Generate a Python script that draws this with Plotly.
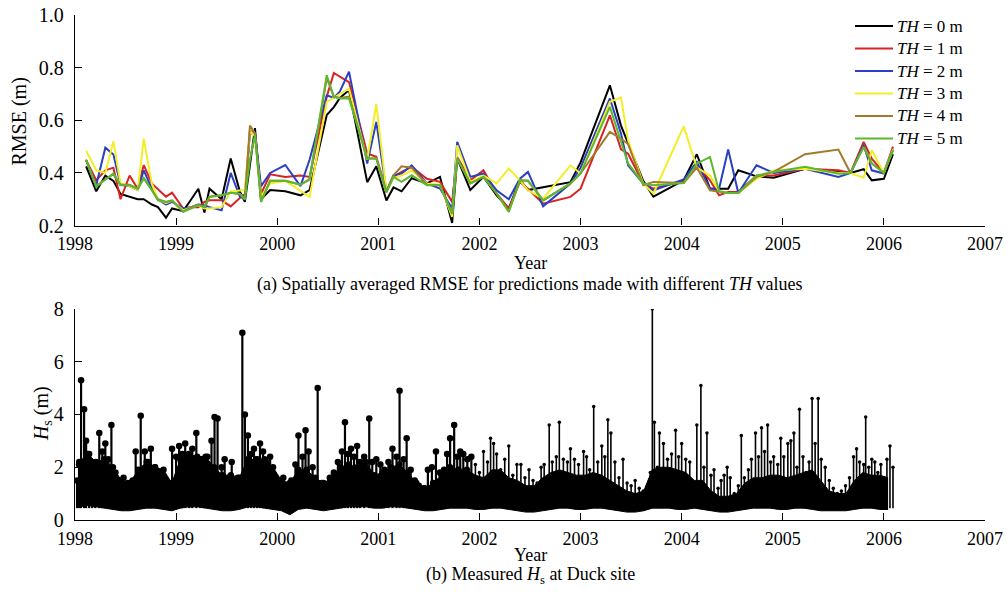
import plotly.graph_objects as go

# ---------------- Panel (a): spatially averaged RMSE ----------------
rmse_time = [1998.11, 1998.21, 1998.30, 1998.38, 1998.45, 1998.54, 1998.62, 1998.68, 1998.76, 1998.82,
             1998.90, 1998.96, 1999.07, 1999.15, 1999.22, 1999.28, 1999.33, 1999.45, 1999.54, 1999.63,
             1999.68, 1999.73, 1999.78, 1999.84, 1999.93, 2000.08, 2000.23, 2000.32, 2000.49, 2000.56,
             2000.62, 2000.71, 2000.89, 2000.98, 2001.08, 2001.15, 2001.23, 2001.33, 2001.48, 2001.61,
             2001.73, 2001.78, 2001.91, 2002.04, 2002.17, 2002.29, 2002.40, 2002.48, 2002.63, 2002.90,
             2003.00, 2003.29, 2003.40, 2003.47, 2003.62, 2003.72, 2004.02, 2004.15, 2004.28, 2004.37,
             2004.46, 2004.56, 2004.74, 2004.91, 2005.22, 2005.55, 2005.67, 2005.80, 2005.88, 2006.00,
             2006.09]

rmse_th0 = [0.425, 0.33, 0.39, 0.37, 0.32, 0.31, 0.30, 0.30, 0.28, 0.27, 0.23, 0.265, 0.255, 0.30, 0.34,
            0.25, 0.34, 0.30, 0.455, 0.33, 0.29, 0.43, 0.57, 0.30, 0.335, 0.33, 0.315, 0.335, 0.62, 0.65,
            0.685, 0.715, 0.365, 0.425, 0.295, 0.345, 0.33, 0.38, 0.36, 0.385, 0.21, 0.455, 0.335, 0.385,
            0.315, 0.265, 0.375, 0.335, 0.345, 0.365, 0.44, 0.733, 0.58, 0.515, 0.37, 0.31, 0.372, 0.471,
            0.34, 0.34, 0.34, 0.41, 0.387, 0.382, 0.416, 0.404, 0.40, 0.414, 0.372, 0.378, 0.471]
rmse_th1 = [0.448, 0.372, 0.41, 0.42, 0.30, 0.39, 0.34, 0.43, 0.36, 0.34, 0.31, 0.325, 0.265, 0.27, 0.27,
            0.29, 0.296, 0.296, 0.273, 0.305, 0.32, 0.55, 0.55, 0.32, 0.395, 0.385, 0.39, 0.385, 0.69, 0.78,
            0.765, 0.745, 0.474, 0.461, 0.33, 0.385, 0.404, 0.423, 0.378, 0.366, 0.29, 0.461, 0.372, 0.41,
            0.322, 0.264, 0.366, 0.34, 0.283, 0.309, 0.34, 0.619, 0.49, 0.473, 0.36, 0.34, 0.37, 0.43,
            0.372, 0.315, 0.328, 0.328, 0.39, 0.39, 0.416, 0.41, 0.40, 0.518, 0.454, 0.40, 0.50]
rmse_th2 = [0.448, 0.353, 0.496, 0.47, 0.355, 0.35, 0.335, 0.41, 0.34, 0.30, 0.28, 0.29, 0.265, 0.27, 0.28,
            0.277, 0.27, 0.258, 0.40, 0.31, 0.30, 0.56, 0.55, 0.35, 0.40, 0.43, 0.35, 0.45, 0.695, 0.685,
            0.71, 0.785, 0.436, 0.594, 0.33, 0.391, 0.398, 0.429, 0.36, 0.341, 0.264, 0.518, 0.385, 0.398,
            0.334, 0.30, 0.378, 0.404, 0.273, 0.36, 0.42, 0.683, 0.55, 0.429, 0.36, 0.334, 0.375, 0.442,
            0.34, 0.34, 0.489, 0.324, 0.429, 0.40, 0.416, 0.385, 0.40, 0.505, 0.41, 0.398, 0.49]
rmse_th3 = [0.484, 0.41, 0.40, 0.52, 0.36, 0.35, 0.335, 0.53, 0.36, 0.30, 0.285, 0.295, 0.258, 0.27, 0.277,
            0.265, 0.265, 0.27, 0.33, 0.335, 0.335, 0.56, 0.54, 0.31, 0.36, 0.37, 0.33, 0.309, 0.67, 0.685,
            0.70, 0.72, 0.45, 0.661, 0.33, 0.38, 0.39, 0.41, 0.36, 0.355, 0.233, 0.505, 0.366, 0.39,
            0.36, 0.417, 0.372, 0.334, 0.302, 0.429, 0.398, 0.67, 0.686, 0.524, 0.36, 0.321, 0.577, 0.42,
            0.39, 0.33, 0.324, 0.324, 0.378, 0.41, 0.416, 0.40, 0.40, 0.382, 0.486, 0.40, 0.49]
rmse_th4 = [0.45, 0.35, 0.375, 0.395, 0.355, 0.355, 0.34, 0.38, 0.335, 0.30, 0.29, 0.295, 0.253, 0.27, 0.28,
            0.27, 0.31, 0.315, 0.325, 0.32, 0.30, 0.58, 0.55, 0.29, 0.37, 0.37, 0.355, 0.375, 0.76, 0.69,
            0.685, 0.69, 0.455, 0.455, 0.33, 0.391, 0.425, 0.42, 0.355, 0.353, 0.245, 0.455, 0.36, 0.385,
            0.322, 0.255, 0.372, 0.37, 0.296, 0.36, 0.398, 0.556, 0.53, 0.51, 0.353, 0.366, 0.362, 0.42,
            0.334, 0.33, 0.324, 0.324, 0.385, 0.404, 0.471, 0.489, 0.40, 0.499, 0.436, 0.40, 0.486]
rmse_th5 = [0.451, 0.347, 0.375, 0.398, 0.353, 0.353, 0.34, 0.38, 0.334, 0.296, 0.29, 0.296, 0.252, 0.265, 0.277,
            0.271, 0.309, 0.315, 0.325, 0.32, 0.30, 0.45, 0.545, 0.29, 0.37, 0.37, 0.355, 0.378, 0.771, 0.689,
            0.683, 0.683, 0.455, 0.455, 0.325, 0.385, 0.366, 0.391, 0.353, 0.353, 0.245, 0.455, 0.36, 0.385,
            0.322, 0.252, 0.372, 0.37, 0.296, 0.36, 0.398, 0.651, 0.52, 0.436, 0.36, 0.353, 0.362, 0.435,
            0.461, 0.33, 0.324, 0.324, 0.39, 0.404, 0.423, 0.397, 0.40, 0.499, 0.436, 0.40, 0.486]

th_labels = ["<i>TH</i> = 0 m", "<i>TH</i> = 1 m", "<i>TH</i> = 2 m",
             "<i>TH</i> = 3 m", "<i>TH</i> = 4 m", "<i>TH</i> = 5 m"]
th_colors = ["#000000", "#d92222", "#2b3fc4", "#f2ee2a", "#a37a2c", "#5cb82e"]

# ---------------- Panel (b): measured Hs at Duck ----------------
hs_years = [1998, 1999, 2000, 2001, 2002, 2003, 2004, 2005, 2006]
# monthly upper edge of the dense band (Jan 1998 ... Jan 2006)
hs_top = [2.2, 2.5, 2.2, 2.3, 2.0, 1.5, 1.4, 1.9, 2.2, 2.0, 1.9, 1.4,
          2.3, 2.5, 2.4, 2.4, 2.0, 1.7, 1.7, 1.6, 2.3, 2.3, 2.3, 2.0,
          1.5, 1.4, 1.9, 1.9, 1.6, 1.4, 1.6, 2.0, 2.1, 2.0, 2.2, 1.7,
          1.8, 2.0, 2.1, 1.8, 1.4, 1.2, 1.4, 1.7, 2.0, 1.9, 1.9, 1.7,
          1.6, 1.9, 1.9, 1.6, 1.5, 1.3, 1.3, 1.6, 1.8, 1.9, 1.8, 1.7,
          1.7, 1.8, 1.7, 1.5, 1.3, 1.1, 1.0, 1.1, 1.9, 2.0, 2.0, 1.9,
          1.8, 1.5, 1.5, 1.1, 0.9, 0.9, 1.0, 1.4, 1.6, 1.6, 1.7, 1.7,
          1.6, 1.7, 1.8, 1.9, 1.5, 1.1, 1.0, 1.0, 1.5, 1.8, 1.7, 1.7,
          1.6]
# monthly lower edge of the band
hs_low = [0.50, 0.55, 0.50, 0.45, 0.40, 0.35, 0.35, 0.40, 0.45, 0.45, 0.40, 0.35,
          0.45, 0.50, 0.50, 0.45, 0.40, 0.35, 0.35, 0.40, 0.50, 0.50, 0.45, 0.40,
          0.35, 0.20, 0.40, 0.45, 0.40, 0.35, 0.40, 0.45, 0.50, 0.50, 0.50, 0.45,
          0.45, 0.50, 0.50, 0.45, 0.40, 0.35, 0.35, 0.40, 0.45, 0.45, 0.45, 0.40,
          0.40, 0.45, 0.45, 0.40, 0.35, 0.30, 0.30, 0.35, 0.40, 0.45, 0.45, 0.40,
          0.40, 0.45, 0.45, 0.40, 0.35, 0.30, 0.30, 0.35, 0.45, 0.45, 0.45, 0.40,
          0.40, 0.45, 0.40, 0.35, 0.30, 0.30, 0.35, 0.40, 0.45, 0.45, 0.45, 0.40,
          0.40, 0.45, 0.45, 0.40, 0.35, 0.35, 0.35, 0.35, 0.40, 0.45, 0.45, 0.40,
          0.40]

# storm peaks (decimal year, Hs in m)
spike_t = [1998.02, 1998.04, 1998.06, 1998.09, 1998.11, 1998.14, 1998.17, 1998.20, 1998.24, 1998.27,
           1998.30, 1998.33, 1998.36, 1998.40, 1998.44, 1998.48, 1998.52, 1998.57, 1998.60, 1998.65,
           1998.69, 1998.72, 1998.75, 1998.79, 1998.83, 1998.87, 1998.92, 1998.96, 1999.00, 1999.03,
           1999.06, 1999.09, 1999.13, 1999.16, 1999.20, 1999.24, 1999.27, 1999.31, 1999.35, 1999.38,
           1999.41, 1999.45, 1999.48, 1999.52, 1999.55, 1999.58, 1999.61, 1999.655, 1999.68, 1999.71,
           1999.74, 1999.77, 1999.80, 1999.83, 1999.86, 1999.89, 1999.93, 1999.97, 2000.02, 2000.06,
           2000.10, 2000.14, 2000.18, 2000.21, 2000.25, 2000.28, 2000.31, 2000.35, 2000.40, 2000.44,
           2000.48, 2000.52, 2000.56, 2000.60, 2000.64, 2000.67, 2000.70, 2000.73, 2000.76, 2000.79,
           2000.82, 2000.86, 2000.91, 2000.94, 2000.98, 2001.02, 2001.06, 2001.10, 2001.14, 2001.18,
           2001.21, 2001.25, 2001.28, 2001.32, 2001.36, 2001.40, 2001.45, 2001.49, 2001.53, 2001.57,
           2001.61, 2001.65, 2001.68, 2001.71, 2001.75, 2001.78, 2001.81, 2001.84, 2001.88, 2001.92,
           2001.96, 2002.00, 2002.04, 2002.08, 2002.11, 2002.14, 2002.17, 2002.21, 2002.25, 2002.29,
           2002.33, 2002.37, 2002.41, 2002.45, 2002.49, 2002.53, 2002.57, 2002.61, 2002.64, 2002.69,
           2002.72, 2002.76, 2002.79, 2002.83, 2002.87, 2002.90, 2002.94, 2002.98, 2003.03, 2003.06,
           2003.09, 2003.13, 2003.17, 2003.21, 2003.24, 2003.27, 2003.30, 2003.34, 2003.38, 2003.42,
           2003.46, 2003.50, 2003.54, 2003.58, 2003.62, 2003.66, 2003.69, 2003.71, 2003.73, 2003.76,
           2003.78, 2003.82, 2003.86, 2003.90, 2003.94, 2003.97, 2004.00, 2004.04, 2004.08, 2004.15,
           2004.19, 2004.22, 2004.25, 2004.29, 2004.32, 2004.36, 2004.39, 2004.42, 2004.45, 2004.48,
           2004.52, 2004.56, 2004.59, 2004.62, 2004.66, 2004.69, 2004.73, 2004.76, 2004.79, 2004.82,
           2004.85, 2004.88, 2004.91, 2004.95, 2004.98, 2005.01, 2005.05, 2005.08, 2005.11, 2005.14,
           2005.165, 2005.20, 2005.23, 2005.26, 2005.29, 2005.32, 2005.35, 2005.38, 2005.42, 2005.46,
           2005.50, 2005.54, 2005.58, 2005.62, 2005.66, 2005.70, 2005.73, 2005.76, 2005.80, 2005.82,
           2005.85, 2005.88, 2005.91, 2005.94, 2005.97, 2006.00, 2006.03, 2006.06, 2006.09]
spike_hs = [1.5, 2.1, 5.3, 4.2, 3.0, 2.5, 2.2, 1.9, 3.3, 2.6,
            2.9, 2.3, 3.6, 1.8, 1.3, 1.6, 1.4, 1.5, 2.6, 3.95,
            2.6, 2.2, 2.7, 2.0, 1.8, 1.6, 1.0, 2.7, 2.4, 2.8,
            2.5, 2.9, 2.3, 2.7, 3.3, 2.3, 2.0, 2.4, 3.0, 3.9,
            3.85, 2.0, 2.3, 1.6, 2.2, 1.4, 1.6, 7.1, 4.0, 3.2,
            2.5, 2.7, 2.3, 2.9, 2.6, 2.2, 2.4, 1.6, 1.4, 1.6,
            1.0, 1.5, 2.1, 3.2, 2.4, 3.4, 2.6, 2.0, 5.0, 1.4,
            1.3, 1.6, 1.8, 2.2, 2.6, 3.7, 2.5, 2.7, 2.4, 2.8,
            2.2, 2.4, 3.85, 2.2, 2.3, 2.1, 1.9, 2.2, 2.7, 2.4,
            4.9, 2.3, 3.1, 1.9, 1.5, 1.3, 1.2, 1.9, 2.0, 2.6,
            1.8, 1.9, 2.5, 3.1, 3.6, 2.4, 2.6, 2.5, 2.3, 2.4,
            2.1, 1.8, 2.6, 2.2, 3.1, 2.9, 2.5, 1.9, 2.3, 2.8,
            1.7, 2.1, 2.1, 1.6, 1.9, 1.5, 1.4, 2.0, 2.1, 3.6,
            2.2, 2.4, 3.7, 2.3, 2.2, 2.7, 2.3, 2.1, 2.6, 2.4,
            1.9, 4.3, 2.2, 2.8, 2.4, 3.8, 3.3, 2.2, 1.6, 2.3,
            1.4, 1.3, 1.5, 1.2, 1.1, 0.9, 1.8, 8.0, 3.7, 2.0,
            3.3, 2.9, 2.3, 2.5, 3.4, 2.4, 2.9, 2.3, 2.2, 3.6,
            5.1, 2.0, 3.3, 1.7, 1.9, 1.2, 1.5, 1.7, 2.0, 1.6,
            1.0, 1.3, 3.2, 1.6, 1.9, 2.3, 3.3, 2.4, 3.5, 2.6,
            3.6, 2.2, 2.4, 2.1, 3.1, 2.4, 2.9, 3.0, 3.3, 2.0,
            4.2, 2.4, 1.8, 2.2, 4.6, 2.9, 4.6, 2.3, 2.0, 1.5,
            1.2, 1.0, 1.1, 1.3, 1.6, 2.4, 2.7, 2.2, 2.1, 3.9,
            2.0, 2.3, 2.2, 1.8, 2.1, 1.6, 2.3, 2.8, 2.0]

# ---------------- Build figure ----------------
fig = go.Figure()

for name, vals, col in zip(th_labels, [rmse_th0, rmse_th1, rmse_th2, rmse_th3, rmse_th4, rmse_th5], th_colors):
    fig.add_trace(go.Scatter(x=rmse_time, y=vals, mode="lines", name=name,
                             line=dict(color=col, width=2), xaxis="x", yaxis="y", showlegend=False))

# month centres as decimal years (Jan 1998 ... Jan 2006)
band_t = [y + (m + 0.5) / 12 for y in hs_years[:-1] for m in range(12)] + [hs_years[-1] + 0.5 / 12]

fig.add_trace(go.Scatter(x=band_t, y=hs_low, mode="lines", line=dict(color="black", width=1),
                         showlegend=False, xaxis="x2", yaxis="y2", hoverinfo="skip"))
fig.add_trace(go.Scatter(x=band_t, y=hs_top, mode="lines", fill="tonexty", fillcolor="black",
                         line=dict(color="black", width=1), showlegend=False,
                         xaxis="x2", yaxis="y2", hoverinfo="skip"))

SPIKE_BASE = 0.45
early = [(t, h) for t, h in zip(spike_t, spike_hs) if t < 2001.95]
late = [(t, h) for t, h in zip(spike_t, spike_hs) if t >= 2001.95]


def sticks(pairs):
    xs, ys = [], []
    for t, h in pairs:
        xs += [t, t, None]
        ys += [SPIKE_BASE, h, None]
    return xs, ys


ex, ey = sticks(early)
lx, ly = sticks(late)
fig.add_trace(go.Scatter(x=ex, y=ey, mode="lines", line=dict(color="black", width=2.2),
                         showlegend=False, xaxis="x2", yaxis="y2"))
fig.add_trace(go.Scatter(x=lx, y=ly, mode="lines", line=dict(color="black", width=1.6),
                         showlegend=False, xaxis="x2", yaxis="y2"))
fig.add_trace(go.Scatter(x=[p[0] for p in early], y=[p[1] for p in early], mode="markers",
                         marker=dict(color="black", size=6.5), showlegend=False, xaxis="x2", yaxis="y2"))
fig.add_trace(go.Scatter(x=[p[0] for p in late], y=[p[1] for p in late], mode="markers",
                         marker=dict(color="black", size=3.5), showlegend=False, xaxis="x2", yaxis="y2"))
early_band = [(t, h) for t, h in zip(band_t, hs_top) if t < 2001.95]
fig.add_trace(go.Scatter(x=[p[0] for p in early_band], y=[p[1] for p in early_band], mode="markers",
                         marker=dict(color="black", size=6.5), showlegend=False, xaxis="x2", yaxis="y2"))

FONT = "Liberation Serif"
axis_common = dict(showline=True, linecolor="black", linewidth=1.3, showgrid=False, zeroline=False,
                   ticks="inside", ticklen=7, tickwidth=1.3, tickcolor="black", mirror=False,
                   automargin=False)

fig.update_layout(
    width=1008, height=592,
    margin=dict(l=75, r=23, t=15, b=72, autoexpand=False),
    paper_bgcolor="white", plot_bgcolor="white",
    font=dict(family=FONT, color="black", size=18),
    xaxis=dict(domain=[0, 1], anchor="y", range=[1998, 2007], tickmode="linear", tick0=1998, dtick=1,
               tickfont=dict(size=18), ticklabelstandoff=2, **axis_common),
    yaxis=dict(domain=[0.583, 1], anchor="x", range=[0.2, 1.0], tickmode="linear", tick0=0.2, dtick=0.2,
               tickformat=".1f", tickfont=dict(size=20), ticklabelstandoff=6, **axis_common),
    xaxis2=dict(domain=[0, 1], anchor="y2", range=[1998, 2007], tickmode="linear", tick0=1998, dtick=1,
                tickfont=dict(size=18), ticklabelstandoff=2, **axis_common),
    yaxis2=dict(domain=[0, 0.418], anchor="x2", range=[0, 8], tickmode="linear", tick0=0, dtick=2,
                tickfont=dict(size=20), ticklabelstandoff=6, **axis_common),
    showlegend=False,
)

# ---- compact legend (line sample + label) in the top-right corner of panel (a) ----
PLOT_L, PLOT_W, PLOT_B, PLOT_H = 75, 910, 520, 505     # plot area in page pixels


def px_x(p):
    return (p - PLOT_L) / PLOT_W


def px_y(p):
    return (PLOT_B - p) / PLOT_H


LEG_TOP, LEG_STEP = 26, 22.5
for i, (lab, col) in enumerate(zip(th_labels, th_colors)):
    yy = px_y(LEG_TOP + i * LEG_STEP)
    fig.add_shape(type="line", xref="paper", yref="paper", x0=px_x(855), x1=px_x(893), y0=yy, y1=yy,
                  line=dict(color=col, width=2))
    fig.add_annotation(xref="paper", yref="paper", x=px_x(897), y=yy, xanchor="left", yanchor="middle",
                       showarrow=False, text=lab, borderpad=0, borderwidth=0,
                       font=dict(family=FONT, size=17, color="black"))

annots = [
    dict(text="RMSE (m)", x=-0.061, y=0.79, textangle=-90, size=20),
    dict(text="<i>H</i><sub>s</sub> (m)", x=-0.035, y=0.21, textangle=-90, size=20),
    dict(text="Year", x=0.5, y=0.508, size=18),
    dict(text="(a) Spatially averaged RMSE for predictions made with different <i>TH</i> values",
         x=0.5, y=0.466, size=18),
    dict(text="Year", x=0.5, y=-0.070, size=18),
    dict(text="(b) Measured <i>H</i><sub>s</sub> at Duck site", x=0.5, y=-0.110, size=18),
]
for a in annots:
    fig.add_annotation(xref="paper", yref="paper", showarrow=False, xanchor="center", yanchor="middle",
                       font=dict(family=FONT, color="black", size=a["size"]),
                       text=a["text"], x=a["x"], y=a["y"], textangle=a.get("textangle", 0))

# remove the default 8 px page margin so the figure fills the window exactly
fig.write_html("out.html", config={"displayModeBar": False},
               post_script="document.body.style.margin='0';")
